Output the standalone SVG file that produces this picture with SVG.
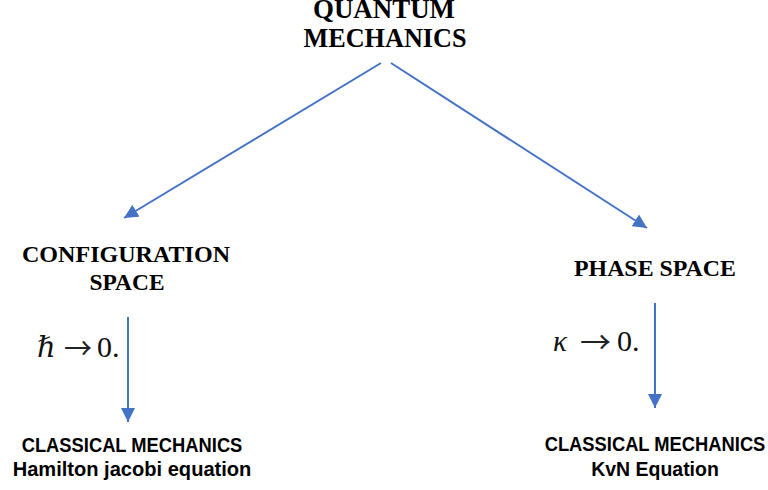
<svg xmlns="http://www.w3.org/2000/svg" width="768" height="490" viewBox="0 0 768 490">
<defs>
<marker id="ah" viewBox="0 0 14 14" refX="14" refY="7" markerWidth="14" markerHeight="14" markerUnits="userSpaceOnUse" orient="auto">
<path d="M0,0 L14,7 L0,14 z" fill="#4472C4"/>
</marker>
<style>
.ser{font-family:"Liberation Serif","Times New Roman",serif;font-weight:bold;fill:#000}
.sans{font-family:"Liberation Sans",Arial,sans-serif;font-weight:bold;fill:#000;font-size:20.5px;text-anchor:middle}
.math{font-family:"Liberation Serif","DejaVu Serif",serif;fill:#111}
.arr{font-family:"Noto Sans CJK JP","DejaVu Sans",sans-serif;fill:#222}
.conn line{stroke:#4472C4;stroke-width:2;fill:none}
</style>
</defs>
<rect width="768" height="490" fill="#fff"/>
<g id="quantum">
<text class="ser" x="384" y="18" font-size="27" text-anchor="middle" textLength="142" lengthAdjust="spacingAndGlyphs">QUANTUM</text>
<text class="ser" x="385" y="47" font-size="27" text-anchor="middle" textLength="163" lengthAdjust="spacingAndGlyphs">MECHANICS</text>
</g>
<g id="config">
<text class="ser" x="126" y="262" font-size="24" text-anchor="middle" textLength="208" lengthAdjust="spacingAndGlyphs">CONFIGURATION</text>
<text class="ser" x="127" y="290" font-size="24" text-anchor="middle" textLength="75" lengthAdjust="spacingAndGlyphs">SPACE</text>
</g>
<g id="phase">
<text class="ser" x="655" y="276" font-size="24" text-anchor="middle" textLength="162" lengthAdjust="spacingAndGlyphs">PHASE SPACE</text>
</g>
<g id="classical-left">
<text class="sans" transform="translate(132,452) scale(0.895,1)">CLASSICAL MECHANICS</text>
<text class="sans" transform="translate(132,476) scale(0.98,1)">Hamilton jacobi equation</text>
</g>
<g id="classical-right">
<text class="sans" transform="translate(655,451) scale(0.895,1)">CLASSICAL MECHANICS</text>
<text class="sans" transform="translate(655,476) scale(0.95,1)">KvN Equation</text>
</g>
<g id="label-hbar">
<text class="math" x="37" y="357" font-size="29" font-style="italic">ℏ</text>
<text class="arr" x="64" y="359" font-size="30" textLength="28" lengthAdjust="spacingAndGlyphs">→</text>
<text class="math" x="97" y="357" font-size="30">0.</text>
</g>
<g id="label-kappa">
<text class="math" x="553" y="351" font-size="29" font-style="italic">κ</text>
<text class="arr" x="580" y="353" font-size="30" textLength="31" lengthAdjust="spacingAndGlyphs">→</text>
<text class="math" x="617" y="351" font-size="30">0.</text>
</g>
<g class="conn" id="connectors">
<line x1="381" y1="63" x2="124" y2="218" marker-end="url(#ah)"/>
<line x1="391" y1="63" x2="647" y2="228" marker-end="url(#ah)"/>
<line x1="128" y1="317" x2="128" y2="422" marker-end="url(#ah)"/>
<line x1="655" y1="303" x2="655" y2="408" marker-end="url(#ah)"/>
</g>
</svg>
